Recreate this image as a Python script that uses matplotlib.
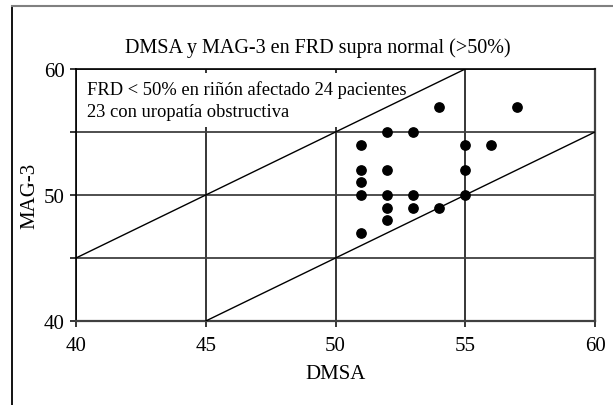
import matplotlib
matplotlib.use("Agg")
import matplotlib.pyplot as plt
from matplotlib.lines import Line2D

plt.rcParams['font.family'] = ['Liberation Serif', 'DejaVu Serif']

# puntos DMSA / MAG-3
dmsa = [54, 57, 52, 53, 51, 55, 56, 51, 52, 55, 51, 51, 52, 53, 55, 52, 53, 54, 52, 51]
mag3 = [57, 57, 55, 55, 54, 54, 54, 52, 52, 52, 51, 50, 50, 50, 50, 49, 49, 49, 48, 47]

# rectas +5 / -5
sup_x = [40, 55]
sup_y = [45, 60]
inf_x = [45, 60]
inf_y = [40, 55]

x_ticks = [40, 45, 50, 55, 60]
y_ticks = [40, 45, 50, 55, 60]
y_labels = ['40', '', '50', '', '60']

titulo = 'DMSA y MAG-3 en FRD supra normal (>50%)'
nota = 'FRD < 50% en riñón afectado 24 pacientes\n23 con uropatía obstructiva'

fig = plt.figure(figsize=(6.13, 4.06), dpi=100)
ax = fig.add_axes([76/613, 1-322/406, 519/613, 252/406])

gris = '#404040'

ax.set_xlim(40, 60)
ax.set_ylim(40, 60)
ax.set_xticks(x_ticks)
ax.set_yticks(y_ticks)
ax.set_yticklabels(y_labels)
ax.set_axisbelow(True)
ax.xaxis.grid(True, color='black', lw=1.1)
ax.yaxis.grid(True, color=gris, lw=1.3)
ax.tick_params(direction='out', length=4, width=1.1, labelsize=15)
ax.tick_params(axis='x', pad=7)
ax.tick_params(axis='y', pad=4)

for s in ['left', 'top']:
    ax.spines[s].set_color('black')
    ax.spines[s].set_linewidth(1.2)
for s in ['right', 'bottom']:
    ax.spines[s].set_color(gris)
    ax.spines[s].set_linewidth(1.6)

ax.text(40.42, 57.55, nota, fontsize=13.3, ha='left', va='center', linespacing=1.4,
        zorder=2, bbox=dict(facecolor='white', edgecolor='none', pad=5))

ax.plot(sup_x, sup_y, color='black', lw=1.0, zorder=3)
ax.plot(inf_x, inf_y, color='black', lw=1.0, zorder=3)
ax.scatter(dmsa, mag3, s=45, c='black', zorder=4)

ax.set_xlabel('DMSA', fontsize=15, labelpad=6)
ax.set_ylabel('MAG-3', fontsize=15, labelpad=3)

fig.text(318/613, 1-48/406, titulo, fontsize=14.5, ha='center', va='center')

# marco del grafico
fig.add_artist(Line2D([12/613, 12/613], [0, 1-7/406], color='black', lw=1.3))
fig.add_artist(Line2D([12/613, 1], [1-7/406, 1-7/406], color='#808080', lw=1.5))

fig.savefig('out.png', dpi=100)
